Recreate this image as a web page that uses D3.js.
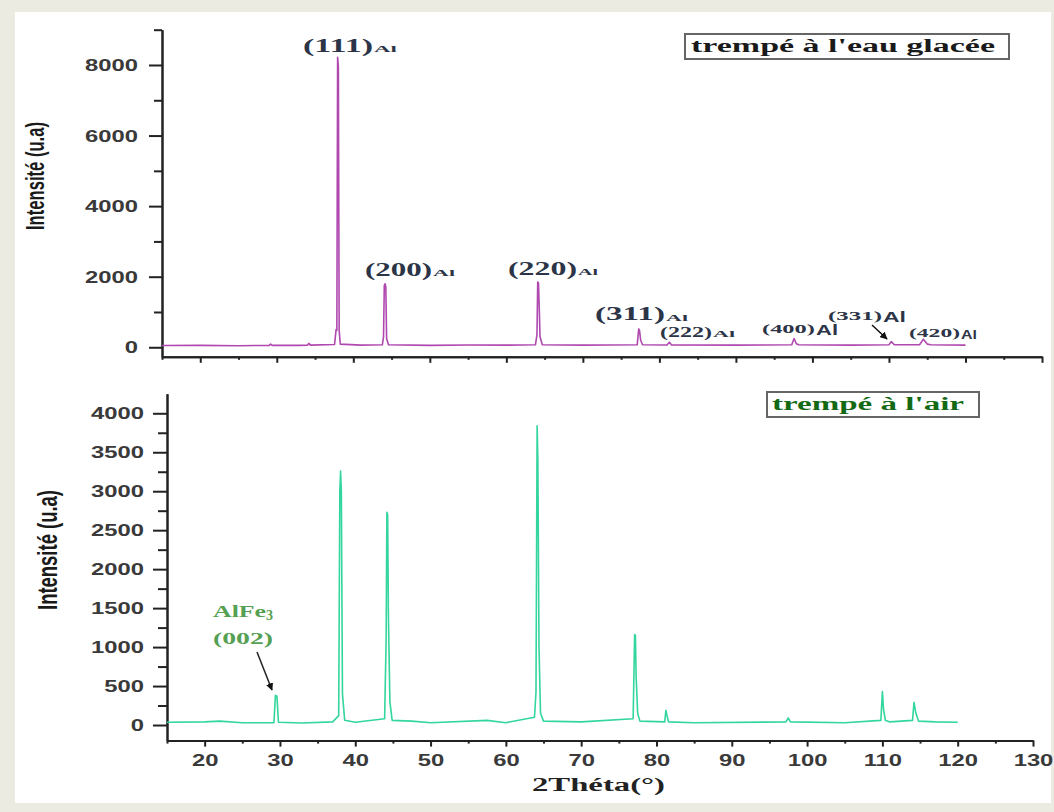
<!DOCTYPE html>
<html>
<head>
<meta charset="utf-8">
<script src="https://cdn.jsdelivr.net/npm/d3@7/dist/d3.min.js"></script>
<style>
  body { margin: 0; background: #ecebe2; }
  svg { display: block; }
</style>
</head>
<body>
<script>
// 2theta / intensity
var waterAngle = [15, 20, 25, 29.0, 29.2, 29.4, 33, 34.0, 34.2, 34.4, 37.55, 37.75, 37.85, 37.95, 38.05, 38.15, 38.3,
  41, 43.8, 43.95, 44.05, 44.15, 44.25, 44.35, 44.6, 50, 55, 60, 63.8, 64.0, 64.1, 64.2, 64.3, 64.4, 64.7,
  70, 77.1, 77.3, 77.4, 77.55, 77.8, 81.0, 81.3, 81.6, 90, 97.3, 97.6, 97.9, 98.2, 105, 110.0, 110.3, 110.7,
  114.0, 114.5, 115.0, 115.5, 120];
var waterCounts = [50, 55, 45, 55, 90, 55, 55, 60, 110, 60, 80, 500, 480, 8220, 7950, 480, 90,
  60, 70, 300, 1750, 1800, 1700, 250, 70, 55, 65, 60, 70, 350, 1850, 1820, 1100, 300, 70,
  60, 70, 520, 480, 200, 70, 65, 140, 65, 60, 70, 250, 100, 70, 60, 70, 160, 70,
  70, 230, 90, 70, 60];

var airAngle = [15, 20, 22, 25, 29.2, 29.4, 29.6, 29.8, 33, 37, 37.8, 37.95, 38.05, 38.15, 38.3, 38.6,
  40, 43.9, 44.1, 44.2, 44.3, 44.4, 44.6, 44.9, 47.5, 50, 57.5, 60, 63.8, 64.0, 64.15, 64.25, 64.4, 64.6, 65,
  70, 76.9, 77.1, 77.2, 77.3, 77.5, 77.8, 81.1, 81.25, 81.4, 81.6, 85, 97.2, 97.5, 97.8, 105,
  109.8, 110.0, 110.15, 110.4, 111, 114.0, 114.2, 114.45, 114.8, 117, 120];
var airCounts = [35, 40, 50, 30, 30, 380, 370, 35, 25, 40, 120, 3000, 3260, 3000, 400, 60,
  35, 80, 1100, 2730, 2700, 1420, 300, 60, 50, 30, 60, 30, 100, 420, 3840, 3380, 1000, 150, 50,
  40, 80, 1160, 1150, 620, 150, 50, 40, 190, 120, 40, 30, 40, 90, 40, 30,
  60, 430, 200, 60, 40, 60, 290, 150, 50, 40, 35];

// tick values
var xTicks = [20, 30, 40, 50, 60, 70, 80, 90, 100, 110, 120, 130];
var xMinor = [15, 25, 35, 45, 55, 65, 75, 85, 95, 105, 115, 125];
var yTicksTop = [0, 2000, 4000, 6000, 8000];
var yMinorTop = [1000, 3000, 5000, 7000, 9000];
var yTicksBot = [0, 500, 1000, 1500, 2000, 2500, 3000, 3500, 4000];
var yMinorBot = [250, 750, 1250, 1750, 2250, 2750, 3250, 3750];

// annotation texts
var topLabels = ["(111)", "(200)", "(220)", "(311)", "(222)", "(400)", "(331)", "(420)"];
var labelLayout = [
  { x: 303, y: 52, w: 70, fs: 19, ax: 374, ay: 52, aw: 23, afs: 9, sans: false },
  { x: 365, y: 276, w: 67, fs: 19, ax: 433, ay: 276, aw: 22, afs: 9, sans: false },
  { x: 508, y: 275, w: 69, fs: 19, ax: 578, ay: 275, aw: 20, afs: 9, sans: false },
  { x: 595, y: 320, w: 70, fs: 19, ax: 666, ay: 321, aw: 22, afs: 9, sans: false },
  { x: 660, y: 337, w: 52, fs: 15, ax: 713, ay: 337, aw: 22, afs: 8, sans: false },
  { x: 762, y: 333, w: 53, fs: 13, ax: 816, ay: 335, aw: 22, afs: 14, sans: true },
  { x: 828, y: 320, w: 54, fs: 13, ax: 883, ay: 322, aw: 23, afs: 14, sans: true },
  { x: 909, y: 337, w: 51, fs: 12, ax: 961, ay: 339, aw: 16, afs: 13, sans: true }
];

var W = 1054, H = 812;
var serif = "'Liberation Serif', 'Times New Roman', serif";
var sans = "'Liberation Sans', Arial, sans-serif";

var svg = d3.select("body").append("svg")
  .attr("width", W)
  .attr("height", H);

svg.append("rect").attr("width", W).attr("height", H).attr("fill", "#ecebe2");
svg.append("rect").attr("x", 15).attr("y", 12).attr("width", 1036).attr("height", 791).attr("fill", "#ffffff");

svg.append("defs").append("marker")
  .attr("id", "arr")
  .attr("viewBox", "0 0 10 10")
  .attr("refX", 9).attr("refY", 5)
  .attr("markerWidth", 5).attr("markerHeight", 5)
  .attr("orient", "auto")
  .append("path").attr("d", "M0,0 L10,5 L0,10 z").attr("fill", "#111");

// stretch a text horizontally to a given width
function fit(sel, w) {
  sel.attr("textLength", w).attr("lengthAdjust", "spacingAndGlyphs");
}
function stretch(sel, k) {
  sel.each(function() {
    var w = this.getComputedTextLength();
    d3.select(this).attr("textLength", w * k).attr("lengthAdjust", "spacingAndGlyphs");
  });
}

// scales
var xTop = d3.scaleLinear().domain([15, 130]).range([162, 1042]);
var yTop = d3.scaleLinear().domain([-270, 9000]).range([356.8, 29.7]);
var xBot = d3.scaleLinear().domain([15, 130]).range([167, 1033]);
var yBot = d3.scaleLinear().domain([-200, 4250]).range([740.6, 393.8]);
var fmt = d3.format("d");

function styleAxis(g) {
  g.selectAll(".domain").attr("stroke", "#222").attr("stroke-width", 2);
  g.selectAll(".tick line").attr("stroke", "#222").attr("stroke-width", 2);
}

// ---- top panel: trempé à l'eau glacée
var gTop = svg.append("g");

gTop.append("g")
  .attr("transform", "translate(0," + yTop(-270) + ")")
  .call(d3.axisBottom(xTop).tickValues(xMinor).tickSize(3).tickFormat("").tickSizeOuter(0))
  .call(styleAxis);
gTop.append("g")
  .attr("transform", "translate(0," + yTop(-270) + ")")
  .call(d3.axisBottom(xTop).tickValues(xTicks).tickSize(6).tickFormat("").tickSizeOuter(0))
  .call(styleAxis);

gTop.append("g")
  .attr("transform", "translate(" + xTop(15) + ",0)")
  .call(d3.axisLeft(yTop).tickValues(yMinorTop).tickSize(8).tickFormat("").tickSizeOuter(0))
  .call(styleAxis);
var yAxTop = gTop.append("g")
  .attr("transform", "translate(" + xTop(15) + ",0)")
  .call(d3.axisLeft(yTop).tickValues(yTicksTop).tickFormat(fmt).tickSize(13).tickPadding(11).tickSizeOuter(0))
  .call(styleAxis);
yAxTop.selectAll("text")
  .attr("font-family", sans).attr("font-size", 17).attr("font-weight", "bold").attr("fill", "#3a3a3a")
  .call(stretch, 1.4);

var line = d3.line();

gTop.append("path")
  .datum(d3.zip(waterAngle, waterCounts))
  .attr("fill", "none")
  .attr("stroke", "#b048b0")
  .attr("stroke-width", 1.6)
  .attr("stroke-linejoin", "round")
  .attr("d", line.x(function(d) { return xTop(d[0]); }).y(function(d) { return yTop(d[1]); }));

gTop.append("text")
  .attr("transform", "translate(44,176) rotate(-90)")
  .attr("text-anchor", "middle")
  .attr("font-family", sans).attr("font-size", 26).attr("font-weight", "bold").attr("fill", "#1a1a1a")
  .text("Intensité (u.a)")
  .call(fit, 108);

// peak labels
topLabels.forEach(function(t, i) {
  var L = labelLayout[i];
  gTop.append("text")
    .attr("x", L.x).attr("y", L.y)
    .attr("font-family", serif).attr("font-weight", "bold").attr("font-size", L.fs)
    .attr("fill", "#2c3447")
    .text(t).call(fit, L.w);
  gTop.append("text")
    .attr("x", L.ax).attr("y", L.ay)
    .attr("font-family", L.sans ? sans : serif).attr("font-weight", "bold").attr("font-size", L.afs)
    .attr("fill", "#2c3447")
    .text("Al").call(fit, L.aw);
});

gTop.append("line")
  .attr("x1", 872).attr("y1", 325).attr("x2", 887).attr("y2", 339)
  .attr("stroke", "#111").attr("stroke-width", 1.5)
  .attr("marker-end", "url(#arr)");

// legend box
gTop.append("rect").attr("x", 685).attr("y", 34).attr("width", 324).attr("height", 25)
  .attr("fill", "#fff").attr("stroke", "#666").attr("stroke-width", 2);
gTop.append("text")
  .attr("x", 691).attr("y", 52)
  .attr("font-family", serif).attr("font-weight", "bold").attr("font-size", 18).attr("fill", "#1a1a1a")
  .text("trempé à l'eau glacée").call(fit, 304);

// ---- bottom panel: trempé à l'air
var gBot = svg.append("g");

gBot.append("g")
  .attr("transform", "translate(0," + yBot(-200) + ")")
  .call(d3.axisBottom(xBot).tickValues(xMinor).tickSize(3).tickFormat("").tickSizeOuter(0))
  .call(styleAxis);
var xAxBot = gBot.append("g")
  .attr("transform", "translate(0," + yBot(-200) + ")")
  .call(d3.axisBottom(xBot).tickValues(xTicks).tickFormat(fmt).tickSize(6).tickPadding(7).tickSizeOuter(0))
  .call(styleAxis);
xAxBot.selectAll("text")
  .attr("font-family", sans).attr("font-size", 17).attr("font-weight", "bold").attr("fill", "#3a3a3a")
  .call(stretch, 1.4);

gBot.append("g")
  .attr("transform", "translate(" + xBot(15) + ",0)")
  .call(d3.axisLeft(yBot).tickValues(yMinorBot).tickSize(9).tickFormat("").tickSizeOuter(0))
  .call(styleAxis);
var yAxBot = gBot.append("g")
  .attr("transform", "translate(" + xBot(15) + ",0)")
  .call(d3.axisLeft(yBot).tickValues(yTicksBot).tickFormat(fmt).tickSize(14).tickPadding(9).tickSizeOuter(0))
  .call(styleAxis);
yAxBot.selectAll("text")
  .attr("font-family", sans).attr("font-size", 17).attr("font-weight", "bold").attr("fill", "#3a3a3a")
  .call(stretch, 1.4);

gBot.append("path")
  .datum(d3.zip(airAngle, airCounts))
  .attr("fill", "none")
  .attr("stroke", "#33d69c")
  .attr("stroke-width", 1.6)
  .attr("stroke-linejoin", "round")
  .attr("d", d3.line().x(function(d) { return xBot(d[0]); }).y(function(d) { return yBot(d[1]); }));

gBot.append("text")
  .attr("transform", "translate(57,550) rotate(-90)")
  .attr("text-anchor", "middle")
  .attr("font-family", sans).attr("font-size", 28).attr("font-weight", "bold").attr("fill", "#1a1a1a")
  .text("Intensité (u.a)")
  .call(fit, 120);

// AlFe3 annotation
var alfe = gBot.append("text")
  .attr("x", 213).attr("y", 617)
  .attr("font-family", serif).attr("font-weight", "bold").attr("font-size", 16).attr("fill", "#55a052");
alfe.append("tspan").text("AlFe").call(fit, 53);
alfe.append("tspan").attr("dy", 3).attr("font-size", 14).text("3");
gBot.append("text")
  .attr("x", 213).attr("y", 644)
  .attr("font-family", serif).attr("font-weight", "bold").attr("font-size", 16).attr("fill", "#55a052")
  .text("(002)").call(fit, 60);
gBot.append("line")
  .attr("x1", 257).attr("y1", 652).attr("x2", 272).attr("y2", 690)
  .attr("stroke", "#222").attr("stroke-width", 1.5)
  .attr("marker-end", "url(#arr)");

gBot.append("rect").attr("x", 767).attr("y", 392).attr("width", 212).attr("height", 25)
  .attr("fill", "#fff").attr("stroke", "#666").attr("stroke-width", 2);
gBot.append("text")
  .attr("x", 772).attr("y", 410)
  .attr("font-family", serif).attr("font-weight", "bold").attr("font-size", 18).attr("fill", "#146a14")
  .text("trempé à l'air").call(fit, 192);

// x title
svg.append("text")
  .attr("x", 532).attr("y", 791)
  .attr("font-family", serif).attr("font-weight", "bold").attr("font-size", 18).attr("fill", "#222")
  .text("2Théta(°)").call(fit, 133);
</script>
</body>
</html>
